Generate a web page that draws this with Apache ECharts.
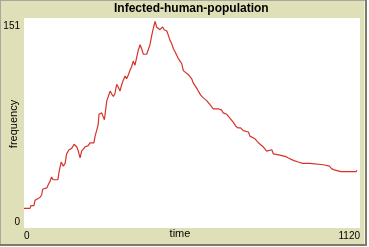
<!DOCTYPE html>
<html>
<head>
<meta charset="utf-8">
<script src="https://cdn.jsdelivr.net/npm/echarts@6/dist/echarts.min.js"></script>
<style>
html,body{margin:0;padding:0;background:#ffffff;}
#chart{width:369px;height:247px;}
</style>
</head>
<body>
<div id="chart"></div>
<script>
var titleText = 'Infected-human-population';
var xName = 'time';
var yName = 'frequency';
var xTicks = [0, 1120];
var yTicks = [0, 151];
var times = [0,20,23,33,37,42,53,59,62,76,80,87,92,97,113,117,122,124,131,137,142,150,153,159,167,176,181,187,192,198,203,209,214,220,226,233,237,242,247,250,259,262,268,272,276,281,287,292,298,303,309,314,320,326,331,337,342,348,353,359,364,370,376,381,387,392,398,403,409,414,420,426,431,437,442,448,453,459,462,467,476,481,487,492,498,503,509,514,520,526,531,537,548,559,564,570,576,581,589,598,609,620,631,648,659,664,676,687,698,707,714,722,731,748,753,770,778,787,798,809,814,826,831,853,873,881,900,914,929,953,959,998,1003,1018,1026,1037,1057,1107,1109];
var infected = [14,14,16,16,20,19,22,24,28,29,31,34,37,35,35,41,46,48,45,47,54,57,56,58,61,59,56,51,56,57,59,58,60,62,63,62,67,71,75,83,84,85,79,86,93,96,100,98,96,98,105,103,100,105,108,111,109,112,115,118,122,119,125,130,134,131,127,128,127,128,134,141,146,151,147,146,145,146,147,145,144,141,137,135,131,129,128,124,122,120,115,114,112,109,106,105,102,100,97,95,93,90,87,87,86,84,83,80,77,74,73,73,71,70,67,65,63,61,59,56,57,57,54,53,52,51,49,48,47,47,46,46,45,45,43,42,41,41,42];

var seriesData = times.map(function(t, i){ return [t, infected[i]]; });

var chart = echarts.init(document.getElementById('chart'), null, {renderer:'canvas'});
var font = 'Liberation Sans, Arial, sans-serif';
var beige = '#e0e0b8';
chart.setOption({
  animation: false,
  backgroundColor: '#ffffff',
  graphic: [
    {type:'rect', z:-10, shape:{x:0,y:0,width:367,height:246}, style:{fill:'#7c7c6c'}},
    {type:'rect', z:-9, shape:{x:0,y:0,width:365,height:244}, style:{fill:'#a8a8a0'}},
    {type:'rect', z:-8, shape:{x:1,y:1,width:364,height:243}, style:{fill:'#f4f4e4'}},
    {type:'rect', z:-7, shape:{x:1,y:1,width:363,height:243}, style:{fill:beige}},
    {type:'rect', z:-6, shape:{x:24,y:18,width:336,height:210}, style:{fill:'#ffffff'}},
    {type:'text', z:10, x:180, y:234, style:{text:xName, font:'11px ' + font, fill:'#000000', align:'center', verticalAlign:'middle'}},
    {type:'text', z:10, x:14, y:124, rotation:Math.PI/2, style:{text:yName, font:'11px ' + font, fill:'#000000', align:'center', verticalAlign:'middle'}}
  ],
  title: {
    text: titleText,
    left: 114,
    top: 3,
    padding: 0,
    textStyle: {fontFamily: font, fontSize: 12, fontWeight: 'bold', color: '#000000'}
  },
  grid: {left: 24, right: 9, top: 21.5, bottom: 19.5, containLabel: false, outerBoundsMode: 'none'},
  xAxis: {
    type: 'value',
    min: xTicks[0],
    max: xTicks[1],
    interval: xTicks[1] - xTicks[0],
    axisLine: {show: false},
    axisTick: {show: false},
    splitLine: {show: false},
    axisLabel: {
      show: true, margin: 4, fontFamily: font, fontSize: 10, color: '#000000',
      showMinLabel: true, showMaxLabel: true,
      alignMinLabel: 'left', alignMaxLabel: 'right',
      formatter: function(v){ return String(v); }
    }
  },
  yAxis: {
    type: 'value',
    min: yTicks[0],
    max: yTicks[1],
    interval: yTicks[1] - yTicks[0],
    axisLine: {show: false},
    axisTick: {show: false},
    splitLine: {show: false},
    axisLabel: {
      show: true, margin: 4, fontFamily: font, fontSize: 10, color: '#000000',
      showMinLabel: true, showMaxLabel: true,
      verticalAlignMinLabel: 'bottom', verticalAlignMaxLabel: 'top',
      formatter: function(v){ return String(v); }
    }
  },
  series: [{
    type: 'line',
    data: seriesData,
    showSymbol: false,
    symbol: 'none',
    lineStyle: {color: '#d73229', width: 1.2},
    itemStyle: {color: '#d73229'},
    clip: true
  }]
});
</script>
</body>
</html>
